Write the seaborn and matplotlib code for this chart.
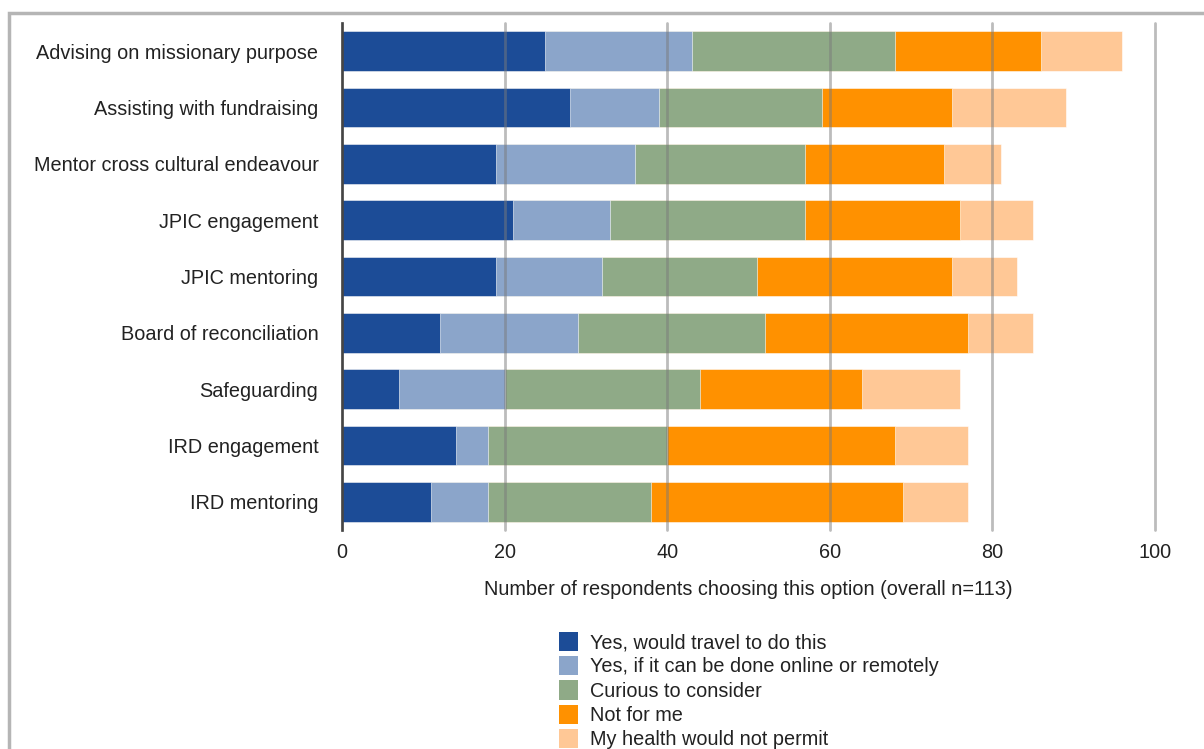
import matplotlib
matplotlib.use("Agg")
import matplotlib.pyplot as plt
import seaborn as sns
import numpy as np
import pandas as pd
from matplotlib.patches import Patch, Rectangle

categories = ["Advising on missionary purpose", "Assisting with fundraising",
              "Mentor cross cultural endeavour", "JPIC engagement", "JPIC mentoring",
              "Board of reconciliation", "Safeguarding", "IRD engagement", "IRD mentoring"]
travel = [25, 28, 19, 21, 19, 12, 7, 14, 11]
online = [18, 11, 17, 12, 13, 17, 13, 4, 7]
curious = [25, 20, 21, 24, 19, 23, 24, 22, 20]
not_for_me = [18, 16, 17, 19, 24, 25, 20, 28, 31]
health = [10, 14, 7, 9, 8, 8, 12, 9, 8]

series_names = ["Yes, would travel to do this", "Yes, if it can be done online or remotely",
                "Curious to consider", "Not for me", "My health would not permit"]
colors = ["#1C4C97", "#8BA5CA", "#8FAA87", "#FF9100", "#FFC896"]
xticks = [0, 20, 40, 60, 80, 100]

sns.set_theme(style="white")
plt.rcParams['font.family'] = ['Liberation Sans', 'DejaVu Sans']

FS = 14.3
fig = plt.figure(figsize=(12.04, 7.49), dpi=100)
ax = fig.add_axes([342/1204, 1-530/749, (1155-342)/1204, (530-23)/749])

vals = np.array([travel, online, curious, not_for_me, health])
cum = np.cumsum(vals, axis=0)
for i in range(len(series_names) - 1, -1, -1):
    df = pd.DataFrame({"cat": categories, "val": cum[i]})
    sns.barplot(data=df, y="cat", x="val", orient="h", color=colors[i],
                saturation=1, width=0.71, ax=ax, edgecolor="white", linewidth=0.4)

ax.set_xlim(0, 100)
ax.set_ylim(len(categories) - 0.5, -0.5)
ax.set_xticks(xticks)
ax.set_xticklabels([str(t) for t in xticks], fontsize=FS, color="#222222")
ax.tick_params(axis="y", labelsize=FS, labelcolor="#222222", length=0, pad=17)
ax.tick_params(axis="x", length=0, pad=9)
ax.set_ylabel("")
ax.set_xlabel("Number of respondents choosing this option (overall n=113)",
              fontsize=FS, color="#222222", labelpad=13)
for s in ["top", "right", "bottom"]:
    ax.spines[s].set_visible(False)
ax.spines["left"].set_color("#111111")
ax.spines["left"].set_linewidth(1.8)
ax.set_axisbelow(False)
ax.xaxis.grid(True, color="#7a7a7a", alpha=0.5, linewidth=2)
for gl in ax.xaxis.get_gridlines():
    gl.set_clip_on(False)
ax.yaxis.grid(False)

handles = [Patch(facecolor=c, edgecolor="none") for c in colors]
fig.legend(handles, series_names, loc="upper left",
           bbox_to_anchor=(549/1204, 1-622/749), frameon=False, fontsize=FS,
           handlelength=0.97, handleheight=1.1, labelspacing=0.2, handletextpad=0.6,
           borderpad=0, labelcolor="#222222")

fig.patches.append(Rectangle((9/1204, -0.1), 1.2, 1-13/749+0.1, transform=fig.transFigure,
                             fill=False, edgecolor="#b5b5b5", linewidth=2.5, zorder=-1))

fig.savefig("out.png", dpi=100)
